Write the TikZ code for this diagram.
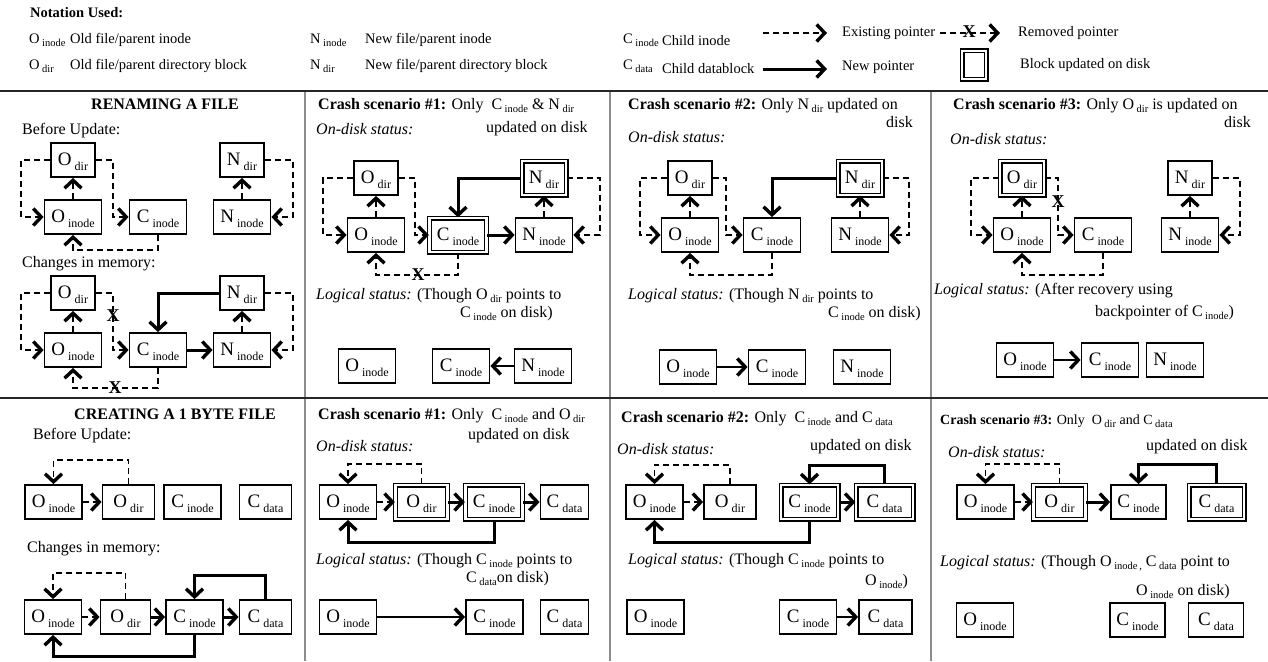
\documentclass[tikz,border=0pt]{standalone}
\usepackage{fontspec}
\setmainfont{Liberation Serif}
\usetikzlibrary{arrows.meta}
\newcommand\ts[2]{#1\hspace{2.5pt}\raisebox{-3.5pt}{\fontsize{10.5}{10.5}\selectfont #2}}
\newcommand\bl[2]{#1\hspace{3pt}\raisebox{-5pt}{\fontsize{12}{12}\selectfont #2}}
\newcommand\ptxt{\fontsize{16}{18}\selectfont}
\newcommand\ltxt{\fontsize{14.5}{16}\selectfont}
\begin{document}
\begin{tikzpicture}[x=1pt,y=-1pt,
  bx/.style={draw, line width=1.8pt, minimum height=34pt, inner sep=0pt, text height=12pt, text depth=1pt, font=\fontsize{19}{19}\selectfont},
  ib/.style={bx, minimum width=57pt},
  db/.style={bx, minimum width=44pt},
  dw/.style={bx, minimum width=52pt},
  upd/.style={double, double distance=2.4pt, line width=1.3pt},
  tx/.style={anchor=west, inner sep=0pt, text height=11pt, text depth=3pt, font=\ptxt},
  lx/.style={anchor=west, inner sep=0pt, text height=10pt, text depth=3pt, font=\ltxt},
  oldp/.style={line width=1.4pt, dash pattern=on 6pt off 4pt, -{Straight Barb[length=8pt,width=17pt,line width=3.4pt]}},
  newp/.style={line width=3pt, -{Straight Barb[length=8pt,width=17pt,line width=3.4pt]}},
  logp/.style={line width=1.8pt, -{Straight Barb[length=8pt,width=17pt,line width=3.4pt]}},
  xm/.style={inner sep=0pt, font=\fontsize{18}{18}\selectfont\bfseries}]
\useasboundingbox (0,0) rectangle (1268,661);
\fill[white] (0,0) rectangle (1268,661);
% ---------- frame ----------
\foreach \x in {305,610,931} \draw[line width=1.5pt, black!45] (\x,91) -- (\x,661);
\draw[line width=2pt, black!85] (0,91) -- (1268,91);
\draw[line width=1.5pt, black!85] (0,398) -- (1268,398);
% ---------- legend ----------
\node[lx, font=\ltxt\bfseries] (nt) at (30,14) {Notation Used:};
\node[lx] (l1) at (29,40) {\ts{O}{inode}};
\node[lx] (l1t) at (70,40) {Old file/parent inode};
\node[lx] (l2) at (310,40) {\ts{N}{inode}};
\node[lx] (l2t) at (365,40) {New file/parent inode};
\node[lx] (l3) at (623,40) {\ts{C}{inode}};
\node[lx] (l3t) at (662,42) {Child inode};
\node[lx] (l4) at (29,66) {\ts{O}{dir}};
\node[lx] (l4t) at (70,66) {Old file/parent directory block};
\node[lx] (l5) at (310,66) {\ts{N}{dir}};
\node[lx] (l5t) at (365,66) {New file/parent directory block};
\node[lx] (l6) at (623,66) {\ts{C}{data}};
\node[lx] (l6t) at (662,70) {Child datablock};
\coordinate (e1) at (763,33); \coordinate (e2) at (827,33);
\draw[oldp] (e1) -- (e2);
\node[lx] (et) at (842,33) {Existing pointer};
\coordinate (r1) at (940,33); \coordinate (r2) at (1000,33);
\draw[oldp] (r1) -- (r2);
\node[xm] (rx) at (969,32) {X};
\node[lx] (rt) at (1018,33) {Removed pointer};
\coordinate (n1) at (763,69); \coordinate (n2) at (827,69);
\draw[newp] (n1) -- (n2);
\node[lx] (npt) at (842,67) {New pointer};
\node[draw, upd, minimum width=24pt, minimum height=28pt, inner sep=0pt] (ub) at (974,65) {};
\node[lx] (ubt) at (1020,65) {Block updated on disk};
% ---------- panel 1 top ----------
\node[tx, anchor=center, font=\ptxt\bfseries] (t1) at (165,105) {RENAMING A FILE};
\node[tx] (t1b) at (22,130) {Before Update:};
\node[db] (aOd) at (73,160) {\bl{O}{dir}};
\node[ib] (aOi) at (73,217) {\bl{O}{inode}};
\node[ib] (aCi) at (158,217) {\bl{C}{inode}};
\node[db] (aNd) at (242,160) {\bl{N}{dir}};
\node[ib] (aNi) at (242,217) {\bl{N}{inode}};
\draw[oldp] (aOi) -- (aOd);
\draw[oldp] (aOd.west) -- (21,160) |- (aOi.west);
\draw[oldp] (aOd.east) -- (113,160) |- (aCi.west);
\draw[oldp] (aCi.south) -- (158,250) -| (aOi.south);
\draw[oldp] (aNi) -- (aNd);
\draw[oldp] (aNd.east) -- (293,160) |- (aNi.east);
\node[tx] (t1c) at (22,263) {Changes in memory:};
\node[db] (bOd) at (73,293) {\bl{O}{dir}};
\node[ib] (bOi) at (73,350) {\bl{O}{inode}};
\node[ib] (bCi) at (158,350) {\bl{C}{inode}};
\node[db] (bNd) at (242,293) {\bl{N}{dir}};
\node[ib] (bNi) at (242,350) {\bl{N}{inode}};
\draw[oldp] (bOi) -- (bOd);
\draw[oldp] (bOd.west) -- (21,293) |- (bOi.west);
\draw[oldp] (bOd.east) -- (113,293) |- (bCi.west);
\node[xm] (bx1) at (113,316) {X};
\draw[oldp] (bCi.south) -- (158,388) -| (bOi.south);
\node[xm] (bx2) at (115,388) {X};
\draw[newp] (bNd.west) -| (bCi.north);
\draw[newp] (bCi) -- (bNi);
\draw[oldp] (bNi) -- (bNd);
\draw[oldp] (bNd.east) -- (293,293) |- (bNi.east);
% ---------- panel 2 top ----------
\node[tx] (c1) at (318,105) {\textbf{Crash scenario \#1:} Only\ \ \ts{C}{inode} \& \ts{N}{dir}};
\node[tx] (c2) at (486,128) {updated on disk};
\node[tx] (c3) at (316,130) {\textit{On-disk status:}};
\node[db] (cOd) at (376,178) {\bl{O}{dir}};
\node[ib] (cOi) at (376,235) {\bl{O}{inode}};
\node[ib, upd] (cCi) at (458,235) {\bl{C}{inode}};
\node[db, upd] (cNd) at (544,178) {\bl{N}{dir}};
\node[ib] (cNi) at (544,235) {\bl{N}{inode}};
\draw[oldp] (cOi) -- (cOd);
\draw[oldp] (cOd.west) -- (323,178) |- (cOi.west);
\draw[oldp] (cOd.east) -- (415,178) |- (cCi.west);
\draw[oldp] (cCi.south) -- (458,275) -| (cOi.south);
\node[xm] (cx) at (418,275) {X};
\draw[newp] (cNd.west) -| (cCi.north);
\draw[newp] (cCi) -- (cNi);
\draw[oldp] (cNi) -- (cNd);
\draw[oldp] (cNd.east) -- (600,178) |- (cNi.east);
\node[tx] (c4) at (316,295) {\textit{Logical status:} (Though \ts{O}{dir} points to};
\node[tx] (c5) at (460,313) {\ts{C}{inode} on disk)};
\node[ib] (clO) at (367,366) {\bl{O}{inode}};
\node[ib] (clC) at (461,366) {\bl{C}{inode}};
\node[ib] (clN) at (543,366) {\bl{N}{inode}};
\draw[logp] (clN) -- (clC);
% ---------- panel 3 top ----------
\node[tx] (d1) at (628,105) {\textbf{Crash scenario \#2:} Only \ts{N}{dir} updated on};
\node[tx, anchor=east] (d2) at (913,123) {disk};
\node[tx] (d3) at (628,138) {\textit{On-disk status:}};
\node[db] (dOd) at (690,178) {\bl{O}{dir}};
\node[ib] (dOi) at (690,235) {\bl{O}{inode}};
\node[ib] (dCi) at (772,235) {\bl{C}{inode}};
\node[db, upd] (dNd) at (860,178) {\bl{N}{dir}};
\node[ib] (dNi) at (860,235) {\bl{N}{inode}};
\draw[oldp] (dOi) -- (dOd);
\draw[oldp] (dOd.west) -- (640,178) |- (dOi.west);
\draw[oldp] (dOd.east) -- (726,178) |- (dCi.west);
\draw[oldp] (dCi.south) -- (772,275) -| (dOi.south);
\draw[newp] (dNd.west) -| (dCi.north);
\draw[oldp] (dNi) -- (dNd);
\draw[oldp] (dNd.east) -- (909,178) |- (dNi.east);
\node[tx] (d4) at (628,295) {\textit{Logical status:} (Though \ts{N}{dir} points to};
\node[tx] (d5) at (828,313) {\ts{C}{inode} on disk)};
\node[ib] (dlO) at (688,367) {\bl{O}{inode}};
\node[ib] (dlC) at (777,367) {\bl{C}{inode}};
\node[ib] (dlN) at (862,367) {\bl{N}{inode}};
\draw[logp] (dlO) -- (dlC);
% ---------- panel 4 top ----------
\node[tx] (e1t) at (953,105) {\textbf{Crash scenario \#3:} Only \ts{O}{dir} is updated on};
\node[tx, anchor=east] (e2t) at (1251,123) {disk};
\node[tx] (e3t) at (950,140) {\textit{On-disk status:}};
\node[db, upd] (eOd) at (1022,178) {\bl{O}{dir}};
\node[ib] (eOi) at (1022,235) {\bl{O}{inode}};
\node[ib] (eCi) at (1103,235) {\bl{C}{inode}};
\node[db] (eNd) at (1190,178) {\bl{N}{dir}};
\node[ib] (eNi) at (1190,235) {\bl{N}{inode}};
\draw[oldp] (eOi) -- (eOd);
\draw[oldp] (eOd.west) -- (971,178) |- (eOi.west);
\draw[oldp] (eOd.east) -- (1058,178) |- (eCi.west);
\node[xm] (ex) at (1058,202) {X};
\draw[oldp] (eCi.south) -- (1103,275) -| (eOi.south);
\draw[oldp] (eNi) -- (eNd);
\draw[oldp] (eNd.east) -- (1240,178) |- (eNi.east);
\node[tx] (e4t) at (934,290) {\textit{Logical status:} (After recovery using};
\node[tx] (e5t) at (1095,312) {backpointer of \ts{C}{inode})};
\node[ib] (elO) at (1025,360) {\bl{O}{inode}};
\node[ib] (elC) at (1110,360) {\bl{C}{inode}};
\node[ib] (elN) at (1175,360) {\bl{N}{inode}};
\draw[logp] (elO) -- (elC);
% ---------- panel 1 bottom ----------
\node[tx, anchor=center, font=\ptxt\bfseries] (f0) at (175,415) {CREATING A 1 BYTE FILE};
\node[tx] (f1) at (33,435) {Before Update:};
\node[ib] (fOi) at (53.5,502) {\bl{O}{inode}};
\node[dw] (fOd) at (128.5,502) {\bl{O}{dir}};
\node[ib] (fCi) at (192.5,502) {\bl{C}{inode}};
\node[dw] (fCd) at (265.5,502) {\bl{C}{data}};
\draw[oldp] (fOi) -- (fOd);
\draw[oldp] (fOd.north) -- (128.5,460) -| (fOi.north);
\node[tx] (f2) at (27,548) {Changes in memory:};
\node[ib] (gOi) at (53,617) {\bl{O}{inode}};
\node[bx, minimum width=50pt] (gOd) at (125.5,617) {\bl{O}{dir}};
\node[ib] (gCi) at (194.5,617) {\bl{C}{inode}};
\node[dw] (gCd) at (265.5,617) {\bl{C}{data}};
\draw[oldp] (gOi) -- (gOd);
\draw[oldp] (gOd.north) -- (125.5,573) -| (gOi.north);
\draw[newp] (gOd) -- (gCi);
\draw[newp] (gCi) -- (gCd);
\draw[newp] (gCd.north) -- (265.5,575) -| (gCi.north);
\draw[newp] (gCi.south) -- (194.5,656) -| (gOi.south);
% ---------- panel 2 bottom ----------
\node[tx] (h1) at (318,415) {\textbf{Crash scenario \#1:} Only\ \ \ts{C}{inode} and \ts{O}{dir}};
\node[tx] (h2) at (468,435) {updated on disk};
\node[tx] (h3) at (316,447) {\textit{On-disk status:}};
\node[ib] (hOi) at (348,502) {\bl{O}{inode}};
\node[dw, upd] (hOd) at (421.5,502) {\bl{O}{dir}};
\node[ib, upd] (hCi) at (494,502) {\bl{C}{inode}};
\node[bx, minimum width=48pt] (hCd) at (564.5,502) {\bl{C}{data}};
\draw[oldp] (hOi) -- (hOd);
\draw[oldp] (hOd.north) -- (421.5,464) -| (hOi.north);
\draw[newp] (hOd) -- (hCi);
\draw[newp] (hCi) -- (hCd);
\draw[newp] (hCi.south) -- (494,542) -| (hOi.south);
\node[tx] (h4) at (316,560) {\textit{Logical status:} (Though \ts{C}{inode} points to};
\node[tx] (h5) at (466,578) {\ts{C}{data}on disk)};
\node[ib] (hlO) at (348,617) {\bl{O}{inode}};
\node[ib] (hlC) at (494.5,617) {\bl{C}{inode}};
\node[bx, minimum width=48pt] (hlD) at (564.5,617) {\bl{C}{data}};
\draw[logp] (hlO) -- (hlC);
% ---------- panel 3 bottom ----------
\node[tx] (i1) at (621,418) {\textbf{Crash scenario \#2:} Only\ \ \ts{C}{inode} and \ts{C}{data}};
\node[tx] (i2) at (810,446) {updated on disk};
\node[tx] (i3) at (617,450) {\textit{On-disk status:}};
\node[ib] (iOi) at (654.5,502) {\bl{O}{inode}};
\node[dw] (iOd) at (730,502) {\bl{O}{dir}};
\node[ib, upd] (iCi) at (809.5,502) {\bl{C}{inode}};
\node[ib, upd] (iCd) at (884.5,502) {\bl{C}{data}};
\draw[oldp] (iOi) -- (iOd);
\draw[oldp] (iOd.north) -- (730,465) -| (iOi.north);
\draw[newp] (iCi) -- (iCd);
\draw[newp] (iCd.north) -- (884.5,465) -| (iCi.north);
\draw[newp] (iCi.south) -- (809.5,542) -| (iOi.south);
\node[tx] (i4) at (628,560) {\textit{Logical status:} (Though \ts{C}{inode} points to};
\node[tx] (i5) at (865,581) {\ts{O}{inode})};
\node[ib] (ilO) at (655.5,617) {\bl{O}{inode}};
\node[ib] (ilC) at (808,617) {\bl{C}{inode}};
\node[bx, minimum width=53pt] (ilD) at (885.5,617) {\bl{C}{data}};
\draw[logp] (ilC) -- (ilD);
% ---------- panel 4 bottom ----------
\node[tx, font=\fontsize{14}{16}\selectfont] (j1) at (940,420) {\textbf{Crash scenario \#3:} Only\ \ \ts{O}{dir} and \ts{C}{data}};
\node[tx] (j2) at (1146,446) {updated on disk};
\node[tx] (j3) at (948,453) {\textit{On-disk status:}};
\node[ib] (jOi) at (985.5,502) {\bl{O}{inode}};
\node[dw, upd] (jOd) at (1059.5,502) {\bl{O}{dir}};
\node[bx, minimum width=55pt] (jCi) at (1138.5,502) {\bl{C}{inode}};
\node[bx, upd, minimum width=55pt] (jCd) at (1216.5,502) {\bl{C}{data}};
\draw[oldp] (jOi) -- (jOd);
\draw[oldp] (jOd.north) -- (1059.5,464) -| (jOi.north);
\draw[newp] (jOd) -- (jCi);
\draw[newp] (jCd.north) -- (1216.5,464) -| (jCi.north);
\node[tx] (j4) at (940,562) {\textit{Logical status:} (Though \ts{O}{inode\,,} \ts{C}{data} point to};
\node[tx] (j5) at (1136,591) {\ts{O}{inode} on disk)};
\node[ib] (jlO) at (985,620) {\bl{O}{inode}};
\node[bx, minimum width=55pt] (jlC) at (1137.5,620) {\bl{C}{inode}};
\node[bx, minimum width=55pt] (jlD) at (1216,620) {\bl{C}{data}};
\end{tikzpicture}
\end{document}
